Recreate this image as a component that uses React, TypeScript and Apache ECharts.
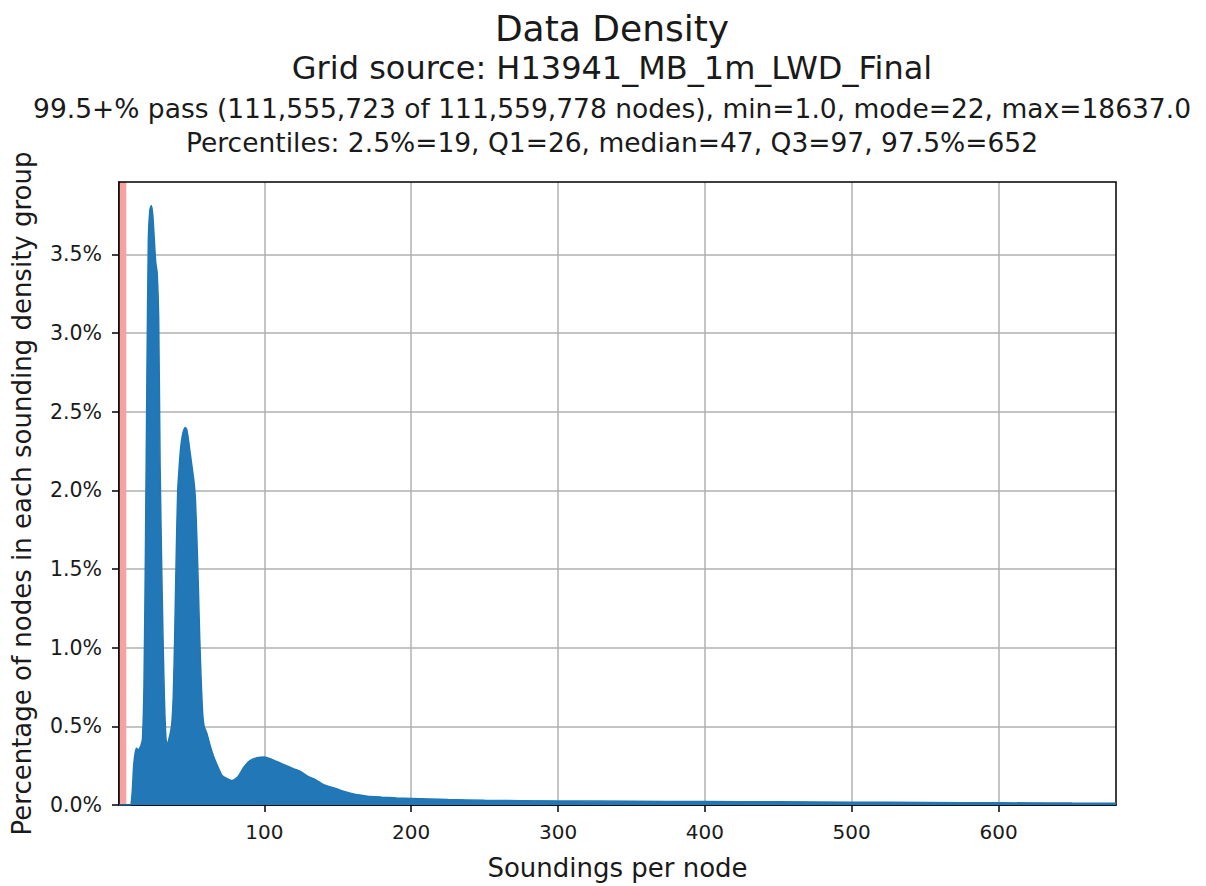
import React, { useEffect, useRef } from "react";
import * as echarts from "echarts";

const titleText = "Data Density";
const subtitleLines = [
  "Grid source: H13941_MB_1m_LWD_Final",
  "99.5+% pass (111,555,723 of 111,559,778 nodes), min=1.0, mode=22, max=18637.0",
  "Percentiles: 2.5%=19, Q1=26, median=47, Q3=97, 97.5%=652",
];
const xAxisName = "Soundings per node";
const yAxisName = "Percentage of nodes in each sounding density group";

// Soundings per node (x) and percentage of nodes (y, in %)
const soundings = [
  1, 5, 8, 9, 10, 11, 12, 13, 14, 15, 16, 17, 18, 19, 20, 21, 22, 23, 24, 25, 26, 27, 28, 29, 30,
  31, 32, 33, 34, 35, 36, 37, 38, 39, 40, 41, 42, 43, 44, 45, 46, 47, 48, 49, 50, 51, 52, 53, 54,
  55, 56, 57, 58, 59, 61, 63, 65, 68, 71, 74, 78, 82, 86, 90, 95, 100, 105, 110, 115, 120, 125,
  130, 135, 140, 145, 150, 155, 160, 165, 170, 180, 190, 200, 225, 250, 300, 350, 400, 450, 500,
  550, 600, 650, 680,
];
const percentNodes = [
  0, 0, 0, 0.0, 0.08, 0.25, 0.33, 0.36, 0.35, 0.36, 0.38, 0.42, 0.75, 1.6, 2.7, 3.6, 3.78, 3.81,
  3.75, 3.6, 3.45, 3.38, 3.1, 2.15, 1.55, 1.05, 0.65, 0.42, 0.38, 0.42, 0.46, 0.52, 0.7, 1.1, 1.6,
  2.0, 2.15, 2.27, 2.34, 2.38, 2.4, 2.39, 2.34, 2.27, 2.2, 2.13, 2.06, 1.95, 1.7, 1.4, 1.05, 0.78,
  0.58, 0.5, 0.45, 0.38, 0.32, 0.25, 0.19, 0.17, 0.155, 0.18, 0.24, 0.28, 0.3, 0.305, 0.29, 0.27,
  0.25, 0.23, 0.21, 0.18, 0.16, 0.13, 0.115, 0.1, 0.085, 0.072, 0.063, 0.056, 0.05, 0.045, 0.042,
  0.035, 0.03, 0.026, 0.024, 0.022, 0.02, 0.018, 0.016, 0.014, 0.012, 0.011,
];
const failRange = [1, 6];
const xRange = [1, 680];
const yRange = [0, 3.96];

const FONT = "DejaVu Sans";

export default function App() {
  const ref = useRef<HTMLDivElement>(null);
  useEffect(() => {
    if (!ref.current) return;
    const chart = echarts.init(ref.current, null, { renderer: "svg" });
    const data = soundings.map((x, i) => [x, percentNodes[i]]);
    const lineCenters = [68, 108, 142];
    const lineSizes = [32, 26.5, 26.5];
    chart.setOption({
      animation: false,
      backgroundColor: "#ffffff",
      graphic: [
        {
          type: "text",
          x: 612,
          y: 28,
          style: {
            text: titleText,
            font: `36px '${FONT}'`,
            fill: "#1a1a1a",
            textAlign: "center",
            textVerticalAlign: "middle",
          },
        },
        ...subtitleLines.map((t, i) => ({
          type: "text",
          x: 612,
          y: lineCenters[i],
          style: {
            text: t,
            font: `${lineSizes[i]}px '${FONT}'`,
            fill: "#1a1a1a",
            textAlign: "center",
            textVerticalAlign: "middle",
          },
        })),
      ],
      grid: {
        left: 119,
        right: 90,
        top: 182,
        bottom: 79,
        show: true,
        borderColor: "#000",
        borderWidth: 1.5,
        backgroundColor: "transparent",
        z: 3,
      },
      xAxis: {
        type: "value",
        min: xRange[0],
        max: xRange[1],
        splitNumber: 7,
        name: xAxisName,
        nameLocation: "middle",
        nameGap: 50,
        nameTextStyle: { fontFamily: FONT, fontSize: 26, color: "#1a1a1a" },
        axisLine: { show: true, onZero: false, lineStyle: { color: "#000", width: 1.5 } },
        axisTick: { show: true, inside: false, length: 7, lineStyle: { color: "#000", width: 1.5 } },
        axisLabel: {
          fontFamily: FONT,
          fontSize: 20,
          color: "#1a1a1a",
          margin: 17,
          showMinLabel: false,
          showMaxLabel: false,
          formatter: (v: number) => (v % 100 === 0 ? String(v) : ""),
        },
        splitLine: {
          show: true,
          showMinLine: false,
          showMaxLine: false,
          lineStyle: { color: "#b0b0b0", width: 1.5 },
        },
      },
      yAxis: {
        type: "value",
        min: yRange[0],
        max: yRange[1],
        interval: 0.5,
        name: yAxisName,
        nameLocation: "middle",
        nameGap: 84,
        nameTextStyle: { fontFamily: FONT, fontSize: 26, color: "#1a1a1a" },
        axisLine: { show: true, lineStyle: { color: "#000", width: 1.5 } },
        axisTick: { show: true, inside: false, length: 7, lineStyle: { color: "#000", width: 1.5 } },
        axisLabel: {
          fontFamily: FONT,
          fontSize: 20.5,
          color: "#1a1a1a",
          margin: 17,
          showMaxLabel: false,
          formatter: (v: number) => v.toFixed(1) + "%",
        },
        splitLine: {
          show: true,
          showMinLine: false,
          showMaxLine: false,
          lineStyle: { color: "#b0b0b0", width: 1.5 },
        },
      },
      series: [
        {
          type: "line",
          data,
          showSymbol: false,
          smooth: 0.2,
          lineStyle: { color: "#1f77b4", width: 1.5 },
          areaStyle: { color: "#2277b6", opacity: 1 },
          markArea: {
            silent: true,
            itemStyle: { color: "#f4a3a3" },
            data: [[{ xAxis: failRange[0] }, { xAxis: failRange[1] }]],
          },
        },
      ],
    });
    return () => chart.dispose();
  }, []);
  return (
    <div
      ref={ref}
      style={{ position: "fixed", left: 0, top: 0, width: 1206, height: 886 }}
    />
  );
}
